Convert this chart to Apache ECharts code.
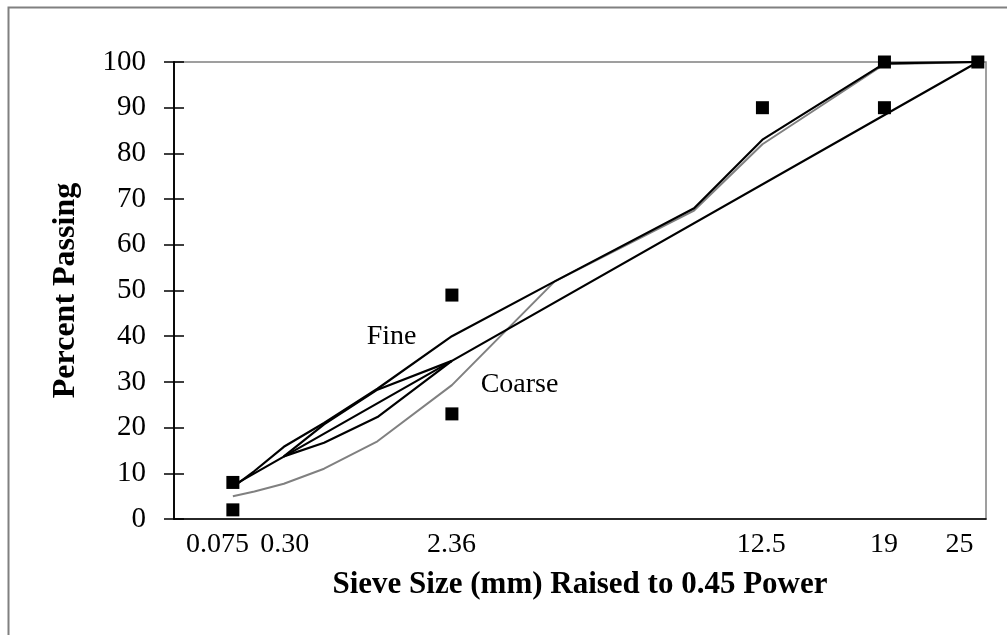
<!DOCTYPE html>
<html>
<head>
<meta charset="utf-8">
<script src="https://cdn.jsdelivr.net/npm/echarts@6/dist/echarts.min.js"></script>
<style>
  html, body { margin: 0; padding: 0; background: #fff; }
  #chart { width: 1007px; height: 635px; }
</style>
</head>
<body>
<div id="chart"></div>
<script>
// sieve sizes (mm) used on the gradation curves
var sieveSizes = [0.075, 0.15, 0.3, 0.6, 1.18, 2.36, 4.75, 9.5, 12.5, 19, 25];
var finePassing = [7, 10.5, 15.8, 21, 28.5, 40, 52, 68, 83, 99.7, 100];
var coarsePassing = [5, 6, 7.7, 11, 17, 29.3, 52, 67.5, 82, 99.5, 100];

// restricted zone
var zoneSizes = [0.3, 0.6, 1.18, 2.36];
var zoneUpper = [13.7, 20.7, 28.3, 34.6];
var zoneLower = [13.7, 16.7, 22.3, 34.6];

// maximum density line
var maxDenSizes = [0.075, 2.36, 19, 25];
var maxDenPassing = [7.3, 34.6, 88.4, 100];

// control points
var ctrlSizes = [0.075, 0.075, 2.36, 2.36, 12.5, 19, 19, 25];
var ctrlPassing = [2, 8, 23, 49, 90, 90, 100, 100];

// x tick labels and where they sit on the 0.45-power axis (as placed in the original)
var tickLabels = ['0.075', '0.30', '2.36', '12.5', '19', '25'];
var tickLabelPos = [0.231, 0.586, 1.47, 3.11, 3.76, 4.16];

// text notes on the plot (sieve size in mm, percent passing)
var noteTexts = ['Fine', 'Coarse'];
var noteSizes = [1.37, 3.83];
var notePassing = [40, 29.5];

var POW = 0.45;
function px(s) { return Math.pow(s, POW); }

function pairs(sizes, vals) {
  var out = [];
  for (var i = 0; i < sizes.length; i++) {
    out.push([px(sizes[i]), vals[i]]);
  }
  return out;
}

var FONT = '"Liberation Serif", "Times New Roman", serif';

function tickName(v) {
  for (var i = 0; i < tickLabelPos.length; i++) {
    if (Math.abs(tickLabelPos[i] - v) < 1e-6) return tickLabels[i];
  }
  return '';
}

var chart = echarts.init(document.getElementById('chart'));

var option = {
  animation: false,
  backgroundColor: '#fff',
  graphic: [{
    type: 'rect',
    left: 6, top: 5,
    shape: { width: 1100, height: 700 },
    style: { fill: 'none', stroke: '#808080', lineWidth: 2 },
    z: -1
  }],
  grid: {
    left: 174, top: 62, right: 21, bottom: 116,
    show: true,
    borderColor: '#808080',
    borderWidth: 1.5,
    backgroundColor: '#fff'
  },
  xAxis: {
    type: 'value',
    min: 0,
    max: 4.3,
    name: 'Sieve Size (mm) Raised to 0.45 Power',
    nameLocation: 'middle',
    nameGap: 50,
    nameTextStyle: { fontFamily: FONT, fontWeight: 'bold', fontSize: 31, color: '#000' },
    axisLine: { lineStyle: { color: '#000', width: 1.5 } },
    axisTick: { show: false },
    splitLine: { show: false },
    axisLabel: {
      customValues: tickLabelPos,
      hideOverlap: false,
      fontFamily: FONT,
      fontSize: 28,
      color: '#000',
      margin: 12,
      formatter: tickName
    }
  },
  yAxis: [{
    type: 'value',
    min: 0, max: 100, interval: 10,
    name: 'Percent Passing',
    nameLocation: 'middle',
    nameGap: 92,
    nameTextStyle: { fontFamily: FONT, fontWeight: 'bold', fontSize: 32, color: '#000' },
    axisLine: { show: true, lineStyle: { color: '#000', width: 1.5 } },
    axisTick: { show: true, length: 10, lineStyle: { color: '#000', width: 1.5 } },
    splitLine: { show: false },
    axisLabel: { fontFamily: FONT, fontSize: 29, color: '#000', margin: 28 }
  }, {
    type: 'value',
    min: 0, max: 100, interval: 10,
    position: 'left',
    axisLine: { show: true, lineStyle: { color: '#000', width: 1.5 } },
    axisTick: { show: true, inside: true, length: 10, lineStyle: { color: '#000', width: 1.5 } },
    splitLine: { show: false },
    axisLabel: { show: false }
  }],
  series: [
    {
      name: 'Coarse', type: 'line', data: pairs(sieveSizes, coarsePassing),
      symbol: 'none', lineStyle: { color: '#808080', width: 2 }, z: 2
    },
    {
      name: 'Fine', type: 'line', data: pairs(sieveSizes, finePassing),
      symbol: 'none', lineStyle: { color: '#000', width: 2.2 }, z: 3
    },
    {
      name: 'Zone upper', type: 'line', data: pairs(zoneSizes, zoneUpper),
      symbol: 'none', lineStyle: { color: '#000', width: 2.2 }, z: 3
    },
    {
      name: 'Zone lower', type: 'line', data: pairs(zoneSizes, zoneLower),
      symbol: 'none', lineStyle: { color: '#000', width: 2.2 }, z: 3
    },
    {
      name: 'Max density', type: 'line', data: pairs(maxDenSizes, maxDenPassing),
      symbol: 'none', lineStyle: { color: '#000', width: 2.2 }, z: 3
    },
    {
      name: 'Control points', type: 'scatter', data: pairs(ctrlSizes, ctrlPassing),
      symbol: 'rect', symbolSize: 13,
      itemStyle: { color: '#000', opacity: 1 }, z: 4
    },
    {
      name: 'Notes', type: 'scatter', symbolSize: 1, silent: true,
      itemStyle: { opacity: 0 },
      data: noteTexts.map(function (t, i) {
        return { value: [px(noteSizes[i]), notePassing[i]], name: t };
      }),
      label: {
        show: true, position: 'inside',
        formatter: function (p) { return p.name; },
        fontFamily: FONT, fontSize: 28, color: '#000', opacity: 1
      },
      z: 5
    }
  ]
};

chart.setOption(option);
</script>
</body>
</html>
